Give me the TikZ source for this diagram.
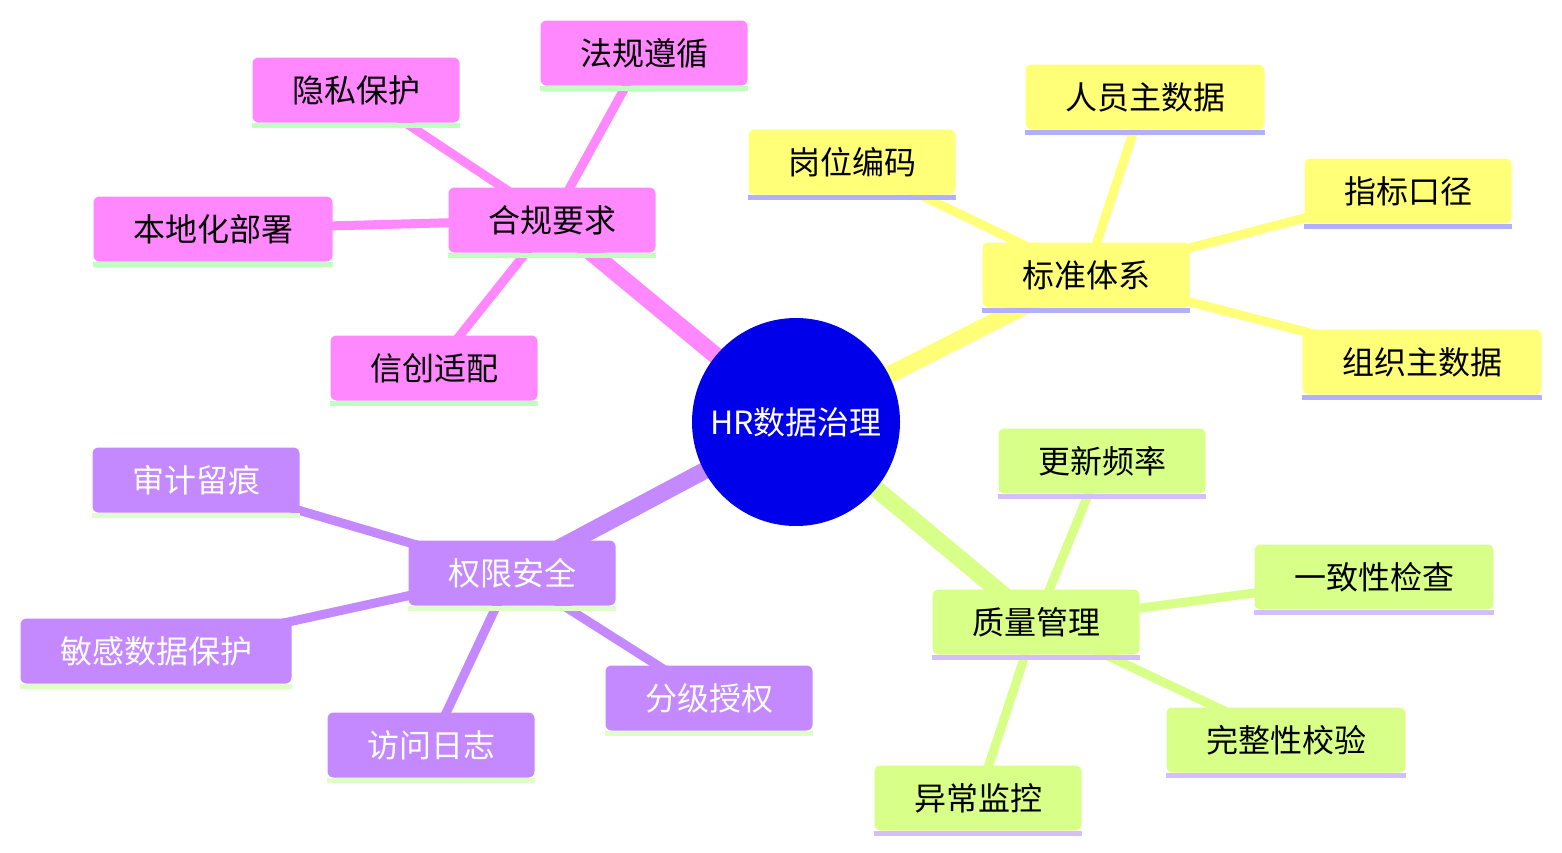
\documentclass[tikz,border=0pt]{standalone}
\usepackage{fontspec}
\setmainfont{Noto Sans CJK SC}
\usetikzlibrary{backgrounds}
\definecolor{rootblue}{RGB}{0,0,235}
\definecolor{hgpink}{RGB}{255,136,255}
\definecolor{bzyellow}{RGB}{255,255,120}
\definecolor{qxpurple}{RGB}{196,136,255}
\definecolor{zlgreen}{RGB}{216,255,136}
\definecolor{hgline}{RGB}{192,255,192}
\definecolor{bzline}{RGB}{176,176,255}
\definecolor{qxline}{RGB}{222,255,200}
\definecolor{zlline}{RGB}{212,190,255}
\tikzset{
  root/.style={circle,fill=rootblue,text=white,minimum size=104pt,inner sep=0pt,
    font=\fontsize{16}{19}\selectfont},
  topic/.style={fill=#1,rounded corners=3pt,inner xsep=19.75pt,inner ysep=0pt,
    minimum height=32.5pt,font=\fontsize{16}{19}\selectfont},
  topic/.default=hgpink,
  trunk/.style={draw=#1,line width=8.5pt},
  twig/.style={draw=#1,line width=4.5pt},
}
\begin{document}
\begin{tikzpicture}[x=0.5pt,y=-0.5pt]
  \useasboundingbox (0,0) rectangle (1562,852);
  \node[root] (hr) at (796,422) {HR数据治理};
  % branches and leaves
  \foreach \n/\x/\y/\t/\c/\u/\f in {
      hg/552/220/合规要求/hgpink/hgline/black,
      hg1/644/53/法规遵循/hgpink/hgline/black,
      hg2/356/90/隐私保护/hgpink/hgline/black,
      hg3/213/229/本地化部署/hgpink/hgline/black,
      hg4/434/368/信创适配/hgpink/hgline/black,
      bz/1086/275/标准体系/bzyellow/bzline/black,
      bz1/1145/97/人员主数据/bzyellow/bzline/black,
      bz2/852/162/岗位编码/bzyellow/bzline/black,
      bz3/1408/191/指标口径/bzyellow/bzline/black,
      bz4/1422/362/组织主数据/bzyellow/bzline/black,
      qx/512/573/权限安全/qxpurple/qxline/white,
      qx1/196/480/审计留痕/qxpurple/qxline/white,
      qx2/156/651/敏感数据保护/qxpurple/qxline/white,
      qx3/431/745/访问日志/qxpurple/qxline/white,
      qx4/709/698/分级授权/qxpurple/qxline/white,
      zl/1036/622/质量管理/zlgreen/zlline/black,
      zl1/1102/461/更新频率/zlgreen/zlline/black,
      zl2/1374/577/一致性检查/zlgreen/zlline/black,
      zl3/1286/740/完整性校验/zlgreen/zlline/black,
      zl4/978/798/异常监控/zlgreen/zlline/black}{
    \node[topic=\c,text=\f] (\n) at (\x,\y) {\t};
    \fill[\u] (\n.south west) rectangle ([yshift=-2.5pt]\n.south east);
  }
  \begin{scope}[on background layer]
    \foreach \n/\c in {hg/hgpink,bz/bzyellow,qx/qxpurple,zl/zlgreen}{
      \draw[trunk=\c] (hr.center) -- (\n.center);
      \foreach \i in {1,...,4}
        \draw[twig=\c] (\n.center) -- (\n\i.center);
    }
  \end{scope}
\end{tikzpicture}
\end{document}
